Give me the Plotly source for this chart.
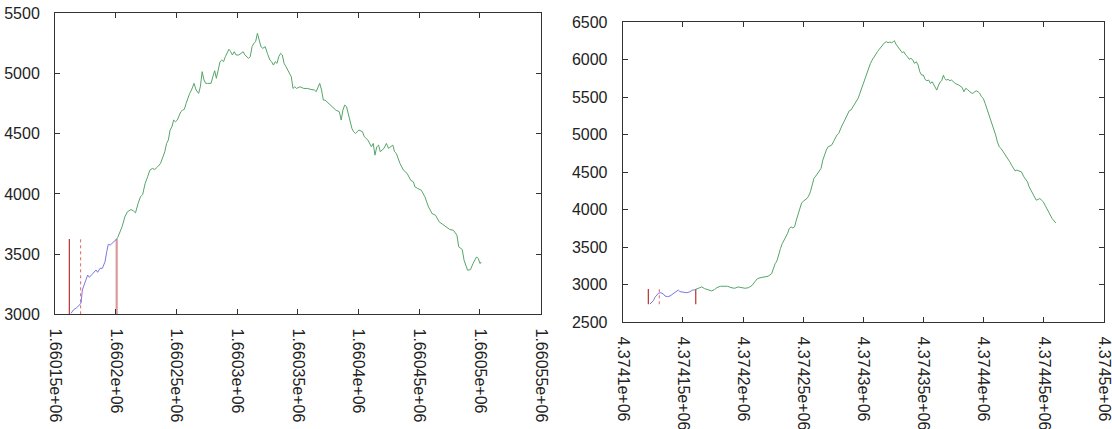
import plotly.graph_objects as go

# ---------------- data: left panel ----------------
left_xticks = [1660150, 1660200, 1660250, 1660300, 1660350, 1660400, 1660450, 1660500, 1660550]
left_xlabels = ["1.66015e+06", "1.6602e+06", "1.66025e+06", "1.6603e+06", "1.66035e+06",
                "1.6604e+06", "1.66045e+06", "1.6605e+06", "1.66055e+06"]
left_yticks = [3000, 3500, 4000, 4500, 5000, 5500]

left_blue_x = [1660163.2, 1660165.1, 1660167.8, 1660170.6, 1660171.4, 1660172.5, 1660174.7,
               1660176.9, 1660178.3, 1660180.2, 1660182.4, 1660183.8, 1660185.1, 1660187.1,
               1660189.0, 1660191.2, 1660192.6, 1660193.9, 1660195.6, 1660197.2, 1660198.9,
               1660200.8]
left_blue_y = [3008, 3036, 3055, 3077, 3091, 3202, 3257, 3326, 3307, 3326, 3354, 3368, 3349,
               3382, 3382, 3437, 3520, 3581, 3576, 3590, 3609, 3625]

left_green_x = [1660200.8,
    1660201.6, 1660205.2, 1660207.5, 1660209.6, 1660212.5, 1660214.6, 1660216.3, 1660218.4, 1660220.4, 1660222.2,
    1660224.2, 1660226.3, 1660228.1, 1660230.1, 1660232.2, 1660234.5, 1660236.9, 1660238.9, 1660240.4, 1660241.9,
    1660243.3, 1660244.8, 1660246.3, 1660247.7, 1660249.2, 1660250.7, 1660252.1, 1660253.6, 1660255.1, 1660256.5,
    1660258.0, 1660259.5, 1660260.9, 1660262.4, 1660264.5, 1660266.2, 1660268.3, 1660269.7, 1660271.2, 1660272.7,
    1660274.1, 1660275.6, 1660278.5, 1660280.0, 1660281.5, 1660282.9, 1660284.4, 1660285.9, 1660287.3, 1660288.8,
    1660290.3, 1660293.2, 1660294.7, 1660296.1, 1660297.6, 1660299.1, 1660301.4, 1660303.5, 1660305.0, 1660306.4,
    1660307.9, 1660309.4, 1660310.8, 1660312.3, 1660313.8, 1660315.2, 1660316.7, 1660318.2, 1660319.6, 1660321.1,
    1660323.1, 1660324.9, 1660327.0, 1660328.4, 1660329.9, 1660331.4, 1660332.8, 1660334.3, 1660335.8, 1660337.2,
    1660338.7, 1660340.2, 1660343.1, 1660344.6, 1660346.0, 1660347.5, 1660349.0, 1660351.9, 1660354.8, 1660357.8,
    1660360.7, 1660363.6, 1660365.1, 1660366.6, 1660368.0, 1660369.5, 1660371.0, 1660372.4, 1660375.4, 1660378.3,
    1660381.3, 1660384.2, 1660385.7, 1660387.1, 1660388.6, 1660390.1, 1660391.5, 1660393.0, 1660394.5, 1660395.9,
    1660397.4, 1660400.3, 1660403.3, 1660404.7, 1660407.7, 1660410.6, 1660412.1, 1660413.5, 1660415.0, 1660416.5,
    1660417.9, 1660420.9, 1660422.9, 1660424.7, 1660426.7, 1660428.2, 1660429.7, 1660431.1, 1660434.1, 1660437.0,
    1660440.0, 1660442.9, 1660445.2, 1660446.4, 1660448.7, 1660451.7, 1660454.6, 1660457.6, 1660460.5, 1660463.4,
    1660466.4, 1660469.3, 1660472.2, 1660475.2, 1660478.1, 1660481.0, 1660482.5, 1660485.4, 1660486.9, 1660488.4,
    1660489.8, 1660492.2, 1660494.2, 1660497.2, 1660498.6, 1660500.1, 1660501.0]
left_green_y = [3625,
    3637, 3726, 3809, 3851, 3870, 3859, 3843, 3920, 3976, 3995,
    4086, 4142, 4197, 4211, 4203, 4225, 4253, 4308, 4350, 4419,
    4447, 4530, 4558, 4613, 4599, 4613, 4641, 4682, 4696, 4702,
    4752, 4807, 4835, 4863, 4918, 4863, 4835, 4890, 5015, 4946,
    4918, 4918, 4918, 4973, 5023, 4960, 5029, 5098, 5112, 5098,
    5140, 5201, 5181, 5154, 5181, 5154, 5154, 5167, 5181, 5154,
    5140, 5126, 5140, 5223, 5251, 5264, 5334, 5278, 5223, 5209,
    5223, 5167, 5112, 5098, 5070, 5098, 5084, 5140, 5167, 5154,
    5084, 5057, 5001, 4973, 4876, 4890, 4876, 4890, 4876, 4876,
    4868, 4863, 4849, 4890, 4918, 4863, 4779, 4779, 4752, 4724,
    4696, 4682, 4613, 4696, 4738, 4724, 4669, 4613, 4544, 4516,
    4502, 4530, 4516, 4475, 4447, 4391, 4419, 4322, 4391, 4405,
    4350, 4378, 4419, 4378, 4391, 4405, 4350, 4336, 4253, 4197,
    4170, 4114, 4100, 4059, 4045, 4031, 3976, 3892, 3837, 3823,
    3768, 3748, 3726, 3704, 3698, 3657, 3560, 3538, 3449, 3394,
    3366, 3371, 3421, 3477, 3463, 3421, 3435]

left_marks_x = [1660161.8, 1660171.1, 1660200.8]
left_marks_y = [3000, 3625]

# ---------------- data: right panel ----------------
right_xticks = [4374100, 4374150, 4374200, 4374250, 4374300, 4374350, 4374400, 4374450, 4374500]
right_xlabels = ["4.3741e+06", "4.37415e+06", "4.3742e+06", "4.37425e+06", "4.3743e+06",
                 "4.37435e+06", "4.3744e+06", "4.37445e+06", "4.3745e+06"]
right_yticks = [2500, 3000, 3500, 4000, 4500, 5000, 5500, 6000, 6500]

right_blue_x = [4374122.7, 4374124.1, 4374125.5, 4374126.8, 4374128.3, 4374129.6, 4374131.6,
                4374133.8, 4374135.2, 4374137.1, 4374139.3, 4374140.7, 4374142.1, 4374143.5,
                4374144.9, 4374146.2, 4374147.6, 4374149.0, 4374150.9, 4374153.2, 4374155.4,
                4374156.8, 4374158.2, 4374159.5, 4374160.7]
right_blue_y = [2744, 2761, 2788, 2833, 2864, 2886, 2894, 2877, 2850, 2841, 2850, 2864, 2886,
                2894, 2917, 2930, 2908, 2904, 2894, 2894, 2904, 2921, 2930, 2930, 2940]

right_green_x = [
    4374160.7, 4374163.6, 4374165.7, 4374168.0, 4374171.0, 4374173.9, 4374176.2, 4374178.3, 4374181.2, 4374184.2,
    4374187.1, 4374190.0, 4374193.0, 4374195.9, 4374198.8, 4374201.8, 4374204.7, 4374207.6, 4374209.7, 4374212.0,
    4374215.0, 4374217.9, 4374220.8, 4374223.8, 4374225.2, 4374226.7, 4374228.2, 4374229.6, 4374231.1, 4374232.6,
    4374234.0, 4374235.5, 4374237.0, 4374238.4, 4374239.9, 4374241.4, 4374242.8, 4374244.3, 4374245.8, 4374247.2,
    4374248.7, 4374250.2, 4374251.6, 4374253.1, 4374254.5, 4374256.0, 4374257.5, 4374258.9, 4374260.4, 4374261.9,
    4374263.3, 4374264.8, 4374266.3, 4374267.7, 4374269.2, 4374270.7, 4374272.1, 4374273.6, 4374275.1, 4374276.5,
    4374278.0, 4374279.5, 4374280.9, 4374282.4, 4374283.9, 4374285.3, 4374286.8, 4374288.3, 4374289.7, 4374291.2,
    4374292.7, 4374294.1, 4374295.6, 4374297.1, 4374298.5, 4374300.0, 4374301.5, 4374302.9, 4374304.4, 4374305.9,
    4374307.3, 4374308.8, 4374310.3, 4374311.7, 4374313.2, 4374314.7, 4374316.1, 4374317.6, 4374319.1, 4374320.5,
    4374322.0, 4374323.5, 4374324.9, 4374325.8, 4374327.0, 4374328.7, 4374330.8, 4374332.3, 4374333.7, 4374335.2,
    4374336.7, 4374338.1, 4374339.6, 4374341.1, 4374342.5, 4374344.0, 4374345.5, 4374346.9, 4374348.4, 4374349.9,
    4374351.3, 4374352.8, 4374354.3, 4374355.7, 4374357.2, 4374358.7, 4374360.1, 4374361.0, 4374362.2, 4374363.9,
    4374365.1, 4374366.6, 4374367.5, 4374368.9, 4374370.4, 4374371.9, 4374373.3, 4374374.8, 4374376.3, 4374379.2,
    4374382.1, 4374383.6, 4374385.1, 4374386.5, 4374388.0, 4374389.4, 4374390.9, 4374392.4, 4374393.8, 4374395.3,
    4374396.8, 4374398.2, 4374399.7, 4374401.2, 4374402.6, 4374404.1, 4374405.6, 4374407.0, 4374408.5, 4374410.0,
    4374411.4, 4374412.9, 4374414.4, 4374415.8, 4374417.3, 4374418.8, 4374420.2, 4374421.7, 4374423.2, 4374424.6,
    4374426.1, 4374427.6, 4374429.0, 4374431.4, 4374433.4, 4374434.9, 4374436.4, 4374437.8, 4374439.3, 4374440.8,
    4374442.2, 4374443.7, 4374445.2, 4374446.6, 4374448.1, 4374449.6, 4374451.0, 4374452.5, 4374454.0, 4374455.4,
    4374456.9, 4374458.4, 4374460.1]
right_green_y = [
    2940, 2962, 2971, 2949, 2936, 2918, 2936, 2962, 2980, 2984,
    2980, 2962, 2953, 2971, 2962, 2953, 2962, 2993, 3038, 3082,
    3096, 3104, 3113, 3149, 3216, 3282, 3318, 3416, 3482, 3549,
    3593, 3638, 3682, 3749, 3771, 3758, 3771, 3860, 3949, 4016,
    4091, 4113, 4127, 4149, 4180, 4238, 4327, 4416, 4447, 4482,
    4504, 4549, 4660, 4727, 4793, 4838, 4847, 4860, 4904, 4949,
    4993, 5016, 5082, 5127, 5171, 5216, 5260, 5318, 5327, 5371,
    5407, 5438, 5482, 5549, 5616, 5682, 5749, 5816, 5882, 5949,
    5993, 6038, 6082, 6104, 6136, 6171, 6193, 6224, 6238, 6224,
    6233, 6224, 6238, 6251, 6207, 6171, 6127, 6091, 6104, 6060,
    6038, 6002, 6016, 5993, 5949, 5971, 5927, 5838, 5793, 5793,
    5736, 5718, 5727, 5682, 5704, 5660, 5629, 5593, 5647, 5704,
    5718, 5793, 5749, 5727, 5736, 5718, 5727, 5704, 5682, 5660,
    5629, 5571, 5616, 5602, 5571, 5558, 5549, 5571, 5584, 5571,
    5549, 5504, 5482, 5416, 5349, 5282, 5216, 5149, 5082, 4993,
    4904, 4838, 4816, 4784, 4749, 4713, 4669, 4638, 4593, 4549,
    4518, 4527, 4518, 4504, 4438, 4402, 4371, 4304, 4260, 4216,
    4171, 4127, 4136, 4149, 4127, 4104, 4060, 4016, 3971, 3913,
    3882, 3851, 3824]

right_marks_x = [4374121.3, 4374130.4, 4374160.7]
right_marks_y = [2740, 2945]

# ---------------- styles ----------------
GREEN = "rgb(85,165,105)"
BLUE = "rgb(120,120,225)"
RED = "rgb(185,50,50)"
RED_DOT = "rgb(225,100,100)"
PINK = "rgba(205,120,120,0.75)"

fig = go.Figure()

def add_marks(xs, ys, xa, ya, styles):
    for xv, st in zip(xs, styles):
        fig.add_trace(go.Scatter(x=[xv, xv], y=ys, mode="lines", xaxis=xa, yaxis=ya,
                                 line=st, hoverinfo="skip", showlegend=False))

# left panel
add_marks(left_marks_x, left_marks_y, "x", "y",
          [dict(color=RED, width=1.2), dict(color=RED_DOT, width=1, dash="dot"),
           dict(color=PINK, width=2.2)])
fig.add_trace(go.Scatter(x=left_blue_x, y=left_blue_y, mode="lines", xaxis="x", yaxis="y",
                         line=dict(color=BLUE, width=1), showlegend=False))
fig.add_trace(go.Scatter(x=left_green_x, y=left_green_y, mode="lines", xaxis="x", yaxis="y",
                         line=dict(color=GREEN, width=1), showlegend=False))

# right panel
add_marks(right_marks_x, right_marks_y, "x2", "y2",
          [dict(color=RED, width=1.2), dict(color=RED_DOT, width=1, dash="dot"),
           dict(color=RED, width=1.2)])
fig.add_trace(go.Scatter(x=right_blue_x, y=right_blue_y, mode="lines", xaxis="x2", yaxis="y2",
                         line=dict(color=BLUE, width=1), showlegend=False))
fig.add_trace(go.Scatter(x=right_green_x, y=right_green_y, mode="lines", xaxis="x2", yaxis="y2",
                         line=dict(color=GREEN, width=1), showlegend=False))

font = dict(family="Liberation Sans, Arial, sans-serif", size=16, color="#222")
common = dict(showline=True, linecolor="#333", linewidth=1, mirror="ticks",
              ticks="inside", ticklen=5, tickcolor="#333", tickwidth=1,
              showgrid=False, zeroline=False, tickfont=font, automargin=False,
              ticklabeloverflow="allow")

fig.update_layout(
    width=1112, height=429,
    margin=dict(l=0, r=0, t=0, b=0),
    paper_bgcolor="white", plot_bgcolor="white",
    showlegend=False, hovermode=False,
    xaxis=dict(common, domain=[0.04946, 0.48624], anchor="y",
               range=[left_xticks[0] - 0.01, left_xticks[-1] + 0.01],
               tickvals=left_xticks, ticktext=left_xlabels, tickangle=90,
               ticklabelstandoff=10),
    yaxis=dict(common, domain=[0.26737, 0.969], anchor="x",
               range=[left_yticks[0] - 0.01, left_yticks[-1] + 0.01],
               tickvals=left_yticks, ticklabelstandoff=11),
    xaxis2=dict(common, domain=[0.55998, 0.99281], anchor="y2",
                range=[right_xticks[0] - 0.01, right_xticks[-1] + 0.01],
                tickvals=right_xticks, ticktext=right_xlabels, tickangle=90,
                ticklabelstandoff=10),
    yaxis2=dict(common, domain=[0.24872, 0.94872], anchor="x2",
                range=[right_yticks[0] - 0.01, right_yticks[-1] + 0.01],
                tickvals=right_yticks, ticklabelstandoff=11),
)

fig.write_html("out.html", config={"displayModeBar": False},
               post_script="document.body.style.margin='0';document.body.style.overflow='hidden';")
